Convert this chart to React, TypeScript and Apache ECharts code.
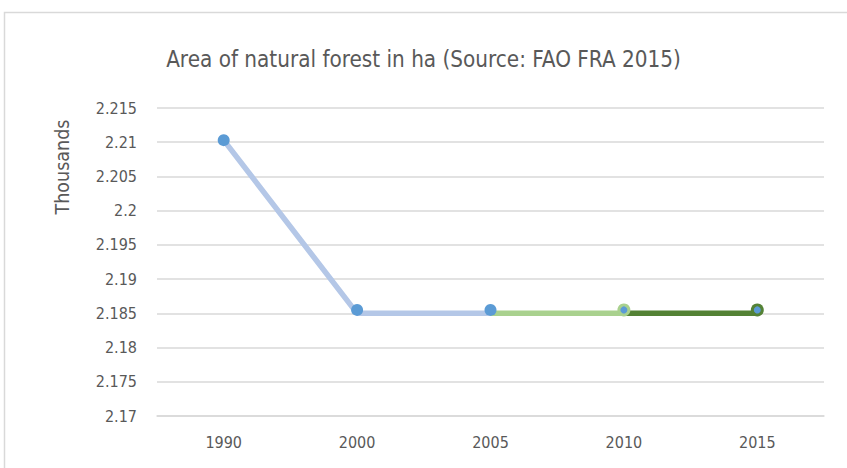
import React, { useEffect, useRef } from "react";
import * as echarts from "echarts";

const years = ["1990", "2000", "2005", "2010", "2015"];
const pointValues = [2.2103, 2.1855, 2.1855, 2.1855, 2.1855];
const blueSegment = [2.2103, 2.185, 2.185, null, null];
const lightGreenSegment = [null, null, 2.185, 2.185, null];
const darkGreenSegment = [null, null, null, 2.185, 2.185];
const yMin = 2.17;
const yMax = 2.215;
const yStep = 0.005;

const FONT = "'DejaVu Sans Condensed', 'Liberation Sans Narrow', 'Roboto', sans-serif";
const TXT = "#595959";

export default function App() {
  const ref = useRef<HTMLDivElement>(null);
  useEffect(() => {
    if (!ref.current) return;
    const chart = echarts.init(ref.current, undefined, { renderer: "svg" });
    chart.setOption({
      animation: false,
      backgroundColor: "#fff",
      textStyle: { fontFamily: FONT },
      title: {
        text: "Area of natural forest in ha (Source: FAO FRA 2015)",
        left: "center",
        top: 43,
        textStyle: { fontFamily: FONT, fontSize: 22.3, fontWeight: "normal", color: TXT },
      },
      graphic: [
        {
          type: "rect",
          shape: { x: 4.5, y: 12.5, width: 900, height: 500 },
          style: { fill: "none", stroke: "#D9D9D9", lineWidth: 1.5 },
          silent: true,
        },
        {
          type: "text",
          x: 62,
          y: 167,
          rotation: Math.PI / 2,
          style: {
            text: "Thousands",
            fontFamily: FONT,
            fontSize: 19.5,
            fill: TXT,
            align: "center",
            verticalAlign: "middle",
          },
        },
      ],
      grid: { left: 157, right: 23, top: 108, bottom: 52, containLabel: false },
      xAxis: {
        type: "category",
        data: years,
        boundaryGap: true,
        axisLine: { show: true, lineStyle: { color: "#D9D9D9", width: 1.5 } },
        axisTick: { show: false },
        axisLabel: { color: TXT, fontFamily: FONT, fontSize: 16, margin: 18 },
      },
      yAxis: {
        type: "value",
        min: yMin,
        max: yMax,
        interval: yStep,
        axisLine: { show: false },
        axisTick: { show: false },
        splitLine: { lineStyle: { color: "#D9D9D9", width: 1.5 } },
        axisLabel: {
          color: TXT,
          fontFamily: FONT,
          fontSize: 16,
          margin: 20,
          formatter: (v: number) => String(+v.toFixed(3)),
        },
      },
      series: [
        {
          type: "line",
          data: blueSegment,
          symbol: "none",
          lineStyle: { color: "#B4C7E7", width: 5.5 },
          z: 2,
        },
        {
          type: "line",
          data: lightGreenSegment,
          symbol: "none",
          lineStyle: { color: "#A9D18E", width: 5.5 },
          z: 2,
        },
        {
          type: "line",
          data: darkGreenSegment,
          symbol: "none",
          lineStyle: { color: "#548235", width: 5.5 },
          z: 3,
        },
        {
          type: "line",
          data: pointValues.map((v, i) => ({
            value: v,
            symbolSize: i === 3 || i === 4 ? 13 : 0,
            itemStyle: { color: i === 3 ? "#A9D18E" : "#548235" },
          })),
          symbol: "circle",
          showAllSymbol: true,
          lineStyle: { width: 0, opacity: 0 },
          z: 4,
        },
        {
          type: "line",
          data: pointValues.map((v, i) => ({
            value: v,
            symbolSize: i < 3 ? 12 : 7,
          })),
          symbol: "circle",
          showAllSymbol: true,
          itemStyle: { color: "#5B9BD5" },
          lineStyle: { width: 0, opacity: 0 },
          z: 5,
        },
      ],
    });
    return () => chart.dispose();
  }, []);
  return (
    <div
      ref={ref}
      style={{ position: "absolute", left: 0, top: 0, width: 847, height: 468 }}
    />
  );
}
